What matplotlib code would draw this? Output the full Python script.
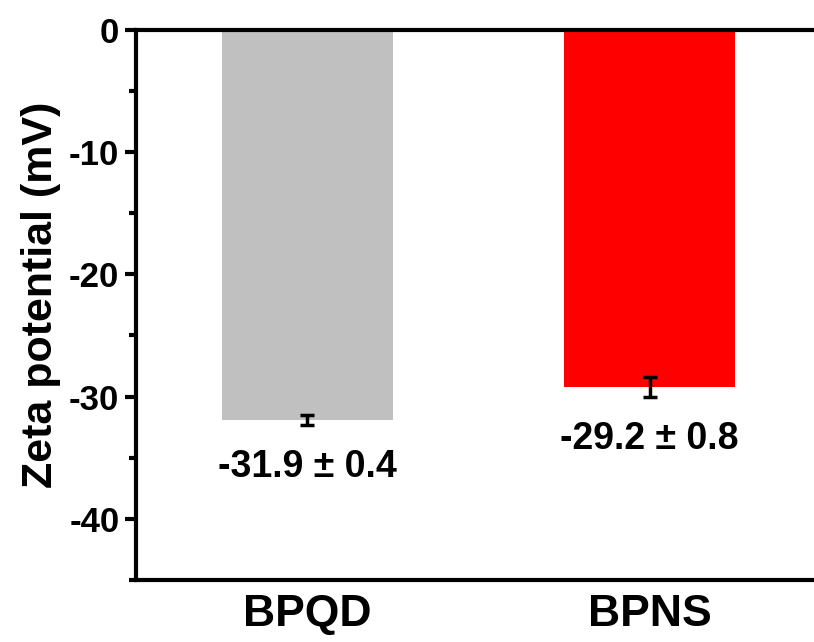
import matplotlib
matplotlib.use("Agg")
import matplotlib.pyplot as plt
from matplotlib.ticker import MultipleLocator

plt.rcParams['font.family'] = ['Liberation Sans', 'DejaVu Sans']
plt.rcParams['font.weight'] = 'bold'
plt.rcParams['axes.unicode_minus'] = False

samples = ["BPQD", "BPNS"]
zeta = [-31.9, -29.2]
zeta_err = [0.4, 0.8]
bar_colors = ["#c0c0c0", "#ff0000"]

fig = plt.figure(figsize=(8.14, 6.42), dpi=100)
ax = fig.add_axes([0.167, 0.0966, 0.8415, 0.857])

xpos = [1, 2]
ax.bar(xpos, zeta, width=0.5, color=bar_colors, zorder=1)
ax.errorbar(xpos, zeta, yerr=zeta_err, fmt='none', ecolor='black',
            elinewidth=2.5, capsize=5, capthick=2.5, zorder=2)

for x, v, e in zip(xpos, zeta, zeta_err):
    ax.text(x, v - e - 3.5, f"{v} \u00b1 {e}", ha='center', va='center',
            fontsize=27, fontweight='bold')

ax.set_xlim(0.5, 2.5)
ax.set_ylim(-45, 0)
ax.set_xticks(xpos)
ax.set_xticklabels(samples, fontsize=32, fontweight='bold')
ax.tick_params(axis='x', length=0, pad=10)
ax.yaxis.set_major_locator(MultipleLocator(10))
ax.yaxis.set_minor_locator(MultipleLocator(5))
ax.tick_params(axis='y', which='major', length=8, width=3, labelsize=25, pad=4)
ax.tick_params(axis='y', which='minor', length=5, width=3)
for lbl in ax.get_yticklabels():
    lbl.set_fontweight('bold')
ax.set_ylabel("Zeta potential (mV)", fontsize=31, fontweight='bold')
ax.yaxis.set_label_coords(-0.11, 0.518)

for side in ['left', 'bottom', 'top', 'right']:
    ax.spines[side].set_linewidth(3)

fig.savefig("out.png", dpi=100)
